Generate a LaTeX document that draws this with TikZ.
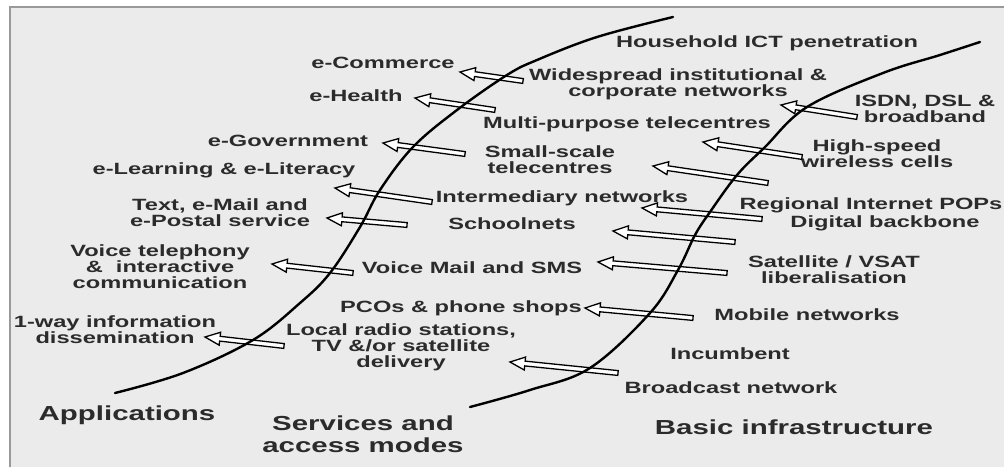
\documentclass[tikz,border=0pt]{standalone}
\usepackage{fontspec}
\setmainfont{Liberation Sans}[FakeStretch=1.45]
\usepackage{xcolor}
\usepackage{tikz}
\definecolor{paper}{gray}{0.922}
\definecolor{framegray}{gray}{0.6}
\definecolor{ink}{gray}{0.17}
\tikzstyle{lbl} = [text=ink, font=\bfseries\fontsize{16.3pt}{16pt}\selectfont, align=center, inner sep=0pt]
\tikzstyle{zone} = [text=ink, font=\bfseries\fontsize{20.3pt}{21.7pt}\selectfont, align=center, inner sep=0pt]
\tikzstyle{boundary} = [line width=2.4pt, line cap=round]
\tikzstyle{hollow} = [draw=black, fill=white, line width=1.3pt, line join=miter]
% hollow arrow from tail #1 to head #2
\newcommand\hollowarrow[2]{%
  \pgfpointdiff{\pgfpointanchor{#2}{center}}{\pgfpointanchor{#1}{center}}%
  \pgfgetlastxy\arrdx\arrdy
  \pgfmathsetmacro\arrang{atan2(\arrdy,\arrdx)}%
  \pgfmathsetmacro\arrlen{veclen(\arrdx,\arrdy)}%
  \draw[hollow, shift={(#2)}, rotate=\arrang] (0,0) -- (15,6.5) -- (15,2.4) -- (\arrlen,2.4)
    -- (\arrlen,-2.4) -- (15,-2.4) -- (15,-6.5) -- cycle;
}

\begin{document}
\begin{tikzpicture}[x=1pt, y=-1pt]
            \useasboundingbox (0,0) rectangle (1004,467);
            % Frame
            \fill[white] (0,0) rectangle (1004,467);
            \fill[paper] (10,7) rectangle (1004,467);
            \draw[framegray, line width=1.2pt] (10,467) -- (10,7) -- (1004,7);
            % Applications
            \node[lbl] (ecom) at (383,63) {e-Commerce};
            \node[lbl] (ehealth) at (356,96) {e-Health};
            \node[lbl] (egov) at (288,141) {e-Government};
            \node[lbl] (elearn) at (224,170) {e-Learning \& e-Literacy};
            \node[lbl] (email) at (220,213) {Text, e-Mail and\\e-Postal service};
            \node[lbl] (voicetel) at (160,267) {Voice telephony\\\&\ \ interactive\\communication};
            \node[lbl] (oneway) at (115,330) {1-way information\\dissemination};
            % Services and access modes
            \node[lbl] (household) at (767,43) {Household ICT penetration};
            \node[lbl] (widespread) at (678,84) {Widespread institutional \&\\corporate networks};
            \node[lbl] (multi) at (627,124) {Multi-purpose telecentres};
            \node[lbl] (smallscale) at (550,160) {Small-scale\\telecentres};
            \node[lbl] (intermed) at (562,198) {Intermediary networks};
            \node[lbl] (school) at (512,224) {Schoolnets};
            \node[lbl] (voicemail) at (472,268) {Voice Mail and SMS};
            \node[lbl] (pco) at (461,308) {PCOs \& phone shops};
            \node[lbl] (radio) at (401,347) {Local radio stations,\\TV \&/or satellite\\delivery};
            % Basic infrastructure
            \node[lbl] (isdn) at (925,109) {ISDN, DSL \&\\broadband};
            \node[lbl] (highspeed) at (877,154) {High-speed\\wireless cells};
            \node[lbl] (pops) at (871,205) {Regional Internet POPs};
            \node[lbl] (backbone) at (885,223) {Digital backbone};
            \node[lbl] (vsat) at (834,270) {Satellite / VSAT\\liberalisation};
            \node[lbl] (mobile) at (807,315) {Mobile networks};
            \node[lbl] (incumbent) at (730,354) {Incumbent};
            \node[lbl] (broadcast) at (731,388) {Broadcast network};
            % Zone titles
            \node[zone] (apps) at (127,415) {Applications};
            \node[zone] (services) at (363,434) {Services and\\access modes};
            \node[zone] (basic) at (794,427) {Basic infrastructure};
            % arrow ends
            \coordinate (a1t) at (523,81);  \coordinate (a1h) at (460,72);
            \coordinate (a2t) at (495,110); \coordinate (a2h) at (415,98);
            \coordinate (a3t) at (465,154); \coordinate (a3h) at (383,143);
            \coordinate (a4t) at (432,202); \coordinate (a4h) at (335,188);
            \coordinate (a5t) at (407,225); \coordinate (a5h) at (327,218);
            \coordinate (a6t) at (353,273); \coordinate (a6h) at (272,264);
            \coordinate (a7t) at (284,346); \coordinate (a7h) at (205,337);
            \coordinate (b1t) at (857,117); \coordinate (b1h) at (781,105);
            \coordinate (b2t) at (802,157); \coordinate (b2h) at (703,142);
            \coordinate (b3t) at (768,183); \coordinate (b3h) at (653,166);
            \coordinate (b4t) at (762,219); \coordinate (b4h) at (642,208);
            \coordinate (b5t) at (735,242); \coordinate (b5h) at (613,231);
            \coordinate (b6t) at (727,273); \coordinate (b6h) at (598,262);
            \coordinate (b7t) at (693,318); \coordinate (b7h) at (585,308);
            \coordinate (b8t) at (618,373); \coordinate (b8h) at (510,362);
            % arrows
            \foreach \a in {a1,a2,a3,a4,a5,a6,a7,b1,b2,b3,b4,b5,b6,b7,b8}
                {\hollowarrow{\a t}{\a h}}
            % boundaries
            \draw[boundary] plot[smooth, tension=0.6] coordinates {(115,393) (183,373) (253,340) (300,303) (330,273) (360,227) (380,190) (413,147) (457,110) (507,75) (537,60) (597,37) (673,17)};
            \draw[boundary] plot[smooth, tension=0.6] coordinates {(470,407) (530,390) (590,368) (650,313) (678,270) (695,235) (710,212) (737,175) (765,147) (807,107) (883,73) (940,55) (980,42)};
\end{tikzpicture}
\end{document}
